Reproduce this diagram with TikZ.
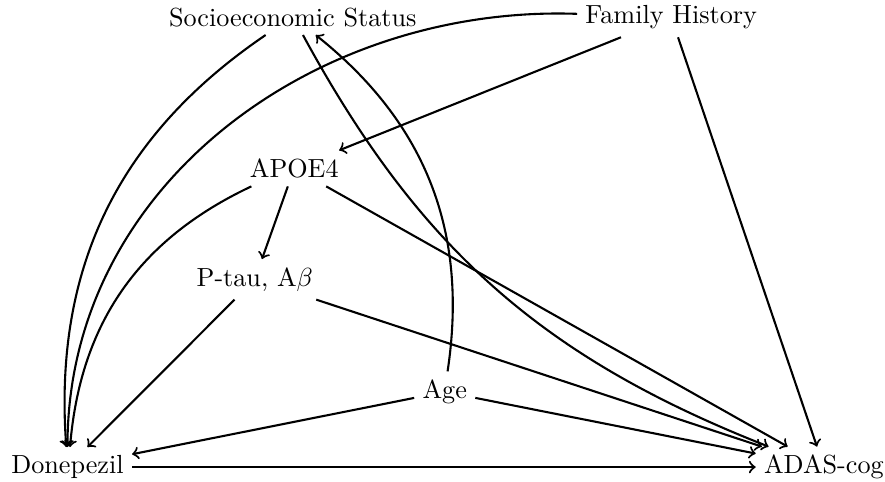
\documentclass[tikz,border=0pt]{standalone}
\usetikzlibrary{arrows}

\tikzset{
	var/.style={inner sep=3pt},
	cause/.style={->, thick}
}

\begin{document}
\begin{tikzpicture}[>=to]
			
			\useasboundingbox (0,0) rectangle (11.88,6.47);
			
			% Variables
			\node[var] (ses) at (3.93,6.24) {Socioeconomic Status};
			\node[var] (fam) at (9.01,6.24) {Family History};
			\node[var] (apoe) at (3.95,4.21) {APOE4};
			\node[var] (bio) at (3.42,2.72) {P-tau, A$\beta$};
			\node[var] (age) at (5.97,1.21) {Age};
			\node[var] (don) at (0.906,0.20) {Donepezil};
			\node[var] (adas) at (11.06,0.20) {ADAS-cog};
			
			% Confounders
			\draw[cause] (ses) to[bend right=30] (don);
			\draw[cause] (ses) to[bend right=20] (adas);
			\draw[cause] (fam) to[out=178, in=90] (don);
			\draw[cause] (fam) -- (apoe);
			\draw[cause] (fam) -- (adas);
			\draw[cause] (age) to[bend right=30] (ses);
			\draw[cause] (age) -- (don);
			\draw[cause] (age) -- (adas);
			
			% Biomarker paths
			\draw[cause] (apoe) to[bend right=30] (don);
			\draw[cause] (apoe) -- (bio);
			\draw[cause] (apoe) -- (adas);
			\draw[cause] (bio) -- (don);
			\draw[cause] (bio) -- (adas);
			
			% Treatment effect
			\draw[cause] (don) -- (adas);
		\end{tikzpicture}
\end{document}
